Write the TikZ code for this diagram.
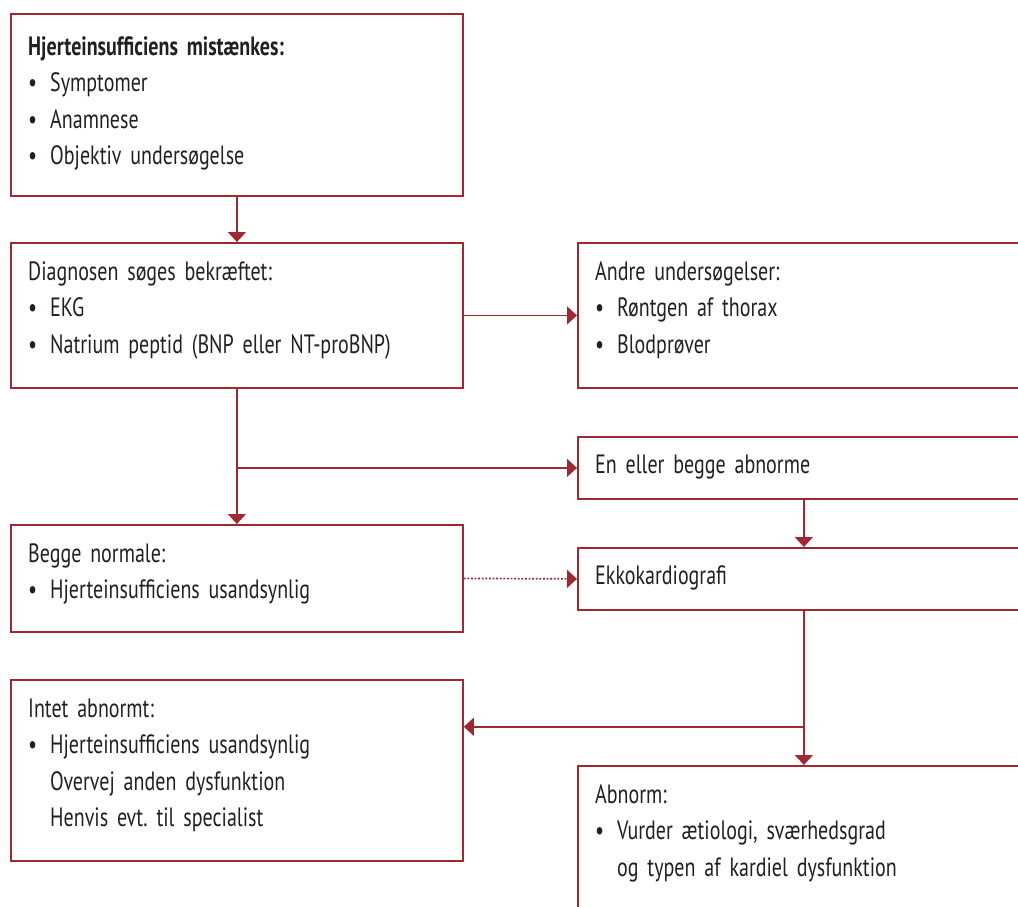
\documentclass[tikz,border=0pt]{standalone}
\usepackage{fontspec}
\setmainfont[FakeStretch=0.755]{PT Sans}
\usetikzlibrary{arrows.meta}
\definecolor{hfred}{RGB}{160,40,48}
\definecolor{hftext}{RGB}{35,31,32}
\newcommand{\blt}{\makebox[22pt][l]{\textbullet}}
\newcommand{\ind}{\hspace*{22pt}}
\newcommand{\hfspacing}{\frenchspacing\spaceskip=4.8pt plus 1pt minus 0.5pt\relax}
\tikzset{
  box/.style={draw=hfred, line width=1.8pt, minimum width=452pt, inner sep=0pt, anchor=north west},
  txt/.style={anchor=base west, text width=420pt, inner sep=0pt, text=hftext,
    font=\fontsize{26.5}{36.5}\selectfont\hfspacing},
  link/.style={draw=hfred, line width=1.6pt, -{Triangle[width=18pt,length=10pt]}},
  dotlink/.style={link, line width=1.7pt, dash pattern=on 1.8pt off 1.8pt},
}
\begin{document}
\begin{tikzpicture}[x=1pt,y=-1pt]
  \clip (0,0) rectangle (1018,906);
  % left column
  \node[box, minimum height=182pt] (mist) at (10,13) {};
  \node[box, minimum height=145pt] (diag) at (10,242) {};
  \node[box, minimum height=107pt] (norm) at (10,524) {};
  \node[box, minimum height=181pt] (intet) at (10,679) {};
  % right column
  \node[box, minimum height=145pt] (andre) at (577,242) {};
  \node[box, minimum height=62pt] (enab) at (577,436) {};
  \node[box, minimum height=62pt] (ekko) at (577,547) {};
  \node[box, minimum height=200pt] (abn) at (577,765) {};
  % texts
  \node[txt] (tmist) at ([xshift=18pt,yshift=-42pt]mist.north west)
    {\textbf{Hjerteinsufficiens mistænkes:}\\ \blt Symptomer\\ \blt Anamnese\\ \blt Objektiv undersøgelse};
  \node[txt] (tdiag) at ([xshift=18pt,yshift=-38pt]diag.north west)
    {Diagnosen søges bekræftet:\\ \blt EKG\\ \blt Natrium peptid (BNP eller NT-proBNP)};
  \node[txt] (tnorm) at ([xshift=18pt,yshift=-38pt]norm.north west)
    {Begge normale:\\ \blt Hjerteinsufficiens usandsynlig};
  \node[txt] (tintet) at ([xshift=18pt,yshift=-38pt]intet.north west)
    {Intet abnormt:\\ \blt Hjerteinsufficiens usandsynlig\\ \ind Overvej anden dysfunktion\\ \ind Henvis evt. til specialist};
  \node[txt] (tandre) at ([xshift=18pt,yshift=-38pt]andre.north west)
    {Andre undersøgelser:\\ \blt Røntgen af thorax\\ \blt Blodprøver};
  \node[txt] (tenab) at ([xshift=18pt,yshift=-37pt]enab.north west) {En eller begge abnorme};
  \node[txt] (tekko) at ([xshift=18pt,yshift=-37pt]ekko.north west) {Ekkokardiografi};
  \node[txt] (tabn) at ([xshift=18pt,yshift=-38pt]abn.north west)
    {Abnorm:\\ \blt Vurder ætiologi, sværhedsgrad\\ \ind og typen af kardiel dysfunktion};
  % connectors
  \coordinate (split1) at (diag.south |- enab.west);
  \coordinate (split2) at ([yshift=-116pt]ekko.south);
  \draw[link] (mist.south) -- (diag.north);
  \draw[link] (diag.east) -- (andre.west);
  \draw[link] (diag.south) -- (norm.north);
  \draw[link] (split1) -- (enab.west);
  \draw[link] (enab.south) -- (ekko.north);
  \draw[dotlink] (norm.east) -- (ekko.west);
  \draw[link] (ekko.south) -- (abn.north);
  \draw[link] (split2) -- (intet.east |- split2);
\end{tikzpicture}
\end{document}
